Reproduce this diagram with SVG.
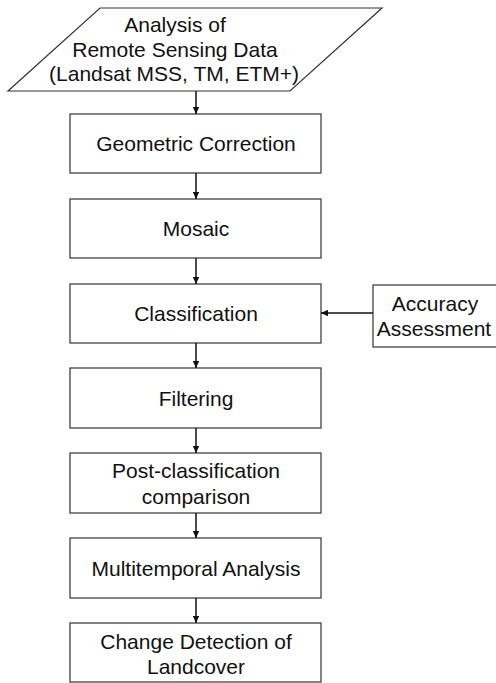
<svg xmlns="http://www.w3.org/2000/svg" width="496" height="683" viewBox="0 0 496 683">
<defs>
<style>
.box{fill:#fff;stroke:#333;stroke-width:1.2}
.t{font-family:"Liberation Sans",Arial,sans-serif;font-size:21px;fill:#111;text-anchor:middle}
.c{stroke:#111;stroke-width:1.5;fill:none}
</style>
<marker id="ah" markerUnits="userSpaceOnUse" markerWidth="8" markerHeight="8" refX="7" refY="4" orient="auto">
<path d="M0,0.8 L7,4 L0,7.2 z" fill="#111"/>
</marker>
</defs>
<rect width="496" height="683" fill="#fff"/>
<g id="n-input">
<polygon class="box" points="100,8 382,8 290,91 8,91"/>
<text class="t" x="175" y="32">Analysis of</text>
<text class="t" x="175" y="57">Remote Sensing Data</text>
<text class="t" x="174" y="81">(Landsat MSS, TM, ETM+)</text>
</g>
<g id="n-geo">
<rect class="box" x="70" y="114" width="251" height="59"/>
<text class="t" x="196" y="151">Geometric Correction</text>
</g>
<g id="n-mosaic">
<rect class="box" x="70" y="199" width="251" height="59"/>
<text class="t" x="196" y="236">Mosaic</text>
</g>
<g id="n-class">
<rect class="box" x="70" y="284" width="251" height="59"/>
<text class="t" x="196" y="321">Classification</text>
</g>
<g id="n-acc">
<rect class="box" x="373" y="285" width="130" height="62"/>
<text class="t" x="435" y="311">Accuracy</text>
<text class="t" x="434" y="336">Assessment</text>
</g>
<g id="n-filter">
<rect class="box" x="70" y="368" width="251" height="60"/>
<text class="t" x="196" y="406">Filtering</text>
</g>
<g id="n-post">
<rect class="box" x="70" y="453" width="251" height="60"/>
<text class="t" x="196" y="478">Post-classification</text>
<text class="t" x="196" y="504">comparison</text>
</g>
<g id="n-multi">
<rect class="box" x="70" y="538" width="251" height="60"/>
<text class="t" x="196" y="576">Multitemporal Analysis</text>
</g>
<g id="n-change">
<rect class="box" x="70" y="623" width="251" height="59"/>
<text class="t" x="196" y="649">Change Detection of</text>
<text class="t" x="196" y="674">Landcover</text>
</g>
<g id="connectors">
<line class="c" x1="196" y1="91" x2="196" y2="114" marker-end="url(#ah)"/>
<line class="c" x1="196" y1="173" x2="196" y2="199" marker-end="url(#ah)"/>
<line class="c" x1="196" y1="258" x2="196" y2="284" marker-end="url(#ah)"/>
<line class="c" x1="196" y1="343" x2="196" y2="368" marker-end="url(#ah)"/>
<line class="c" x1="196" y1="428" x2="196" y2="453" marker-end="url(#ah)"/>
<line class="c" x1="196" y1="513" x2="196" y2="538" marker-end="url(#ah)"/>
<line class="c" x1="196" y1="598" x2="196" y2="623" marker-end="url(#ah)"/>
<line class="c" x1="373" y1="313" x2="321" y2="313" marker-end="url(#ah)"/>
</g>
</svg>
